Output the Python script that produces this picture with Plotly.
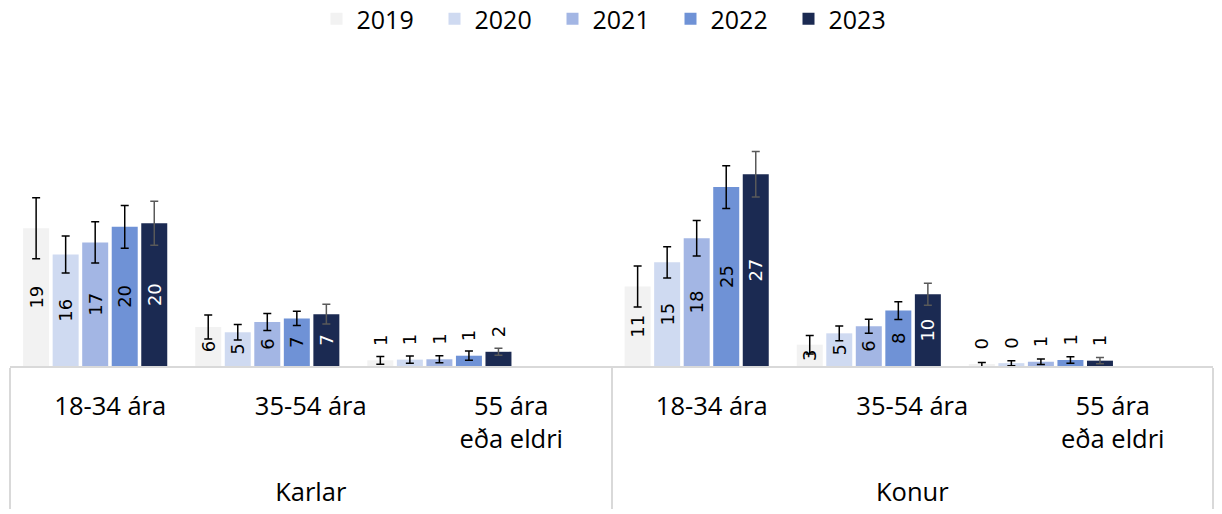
import plotly.graph_objects as go

years = ["2019", "2020", "2021", "2022", "2023"]
colors = ["#f2f2f2", "#cfdaf1", "#a3b6e4", "#6f92d6", "#1b2a52"]
groups = ["Karlar", "Konur"]
ages = ["18-34 ára", "35-54 ára", "55 ára<br>eða eldri"]

# values per year: [18-34, 35-54, 55+]
karlar_vals = {
    "2019": [19.4, 5.5, 0.8],
    "2020": [15.7, 4.75, 0.9],
    "2021": [17.4, 6.2, 0.95],
    "2022": [19.6, 6.7, 1.45],
    "2023": [20.1, 7.3, 2.0],
}
karlar_err = {
    "2019": [4.3, 1.7, 0.55],
    "2020": [2.6, 1.1, 0.5],
    "2021": [2.9, 1.2, 0.5],
    "2022": [3.0, 1.0, 0.65],
    "2023": [3.1, 1.4, 0.5],
}
karlar_labels = {
    "2019": ["19", "6", "1"],
    "2020": ["16", "5", "1"],
    "2021": ["17", "6", "1"],
    "2022": ["20", "7", "1"],
    "2023": ["20", "7", "2"],
}
konur_vals = {
    "2019": [11.2, 3.0, 0.2],
    "2020": [14.6, 4.6, 0.4],
    "2021": [18.0, 5.6, 0.6],
    "2022": [25.2, 7.8, 0.85],
    "2023": [27.0, 10.1, 0.75],
}
konur_err = {
    "2019": [2.9, 1.3, 0.3],
    "2020": [2.2, 1.05, 0.35],
    "2021": [2.5, 1.0, 0.4],
    "2022": [3.0, 1.25, 0.45],
    "2023": [3.2, 1.55, 0.45],
}
konur_labels = {
    "2019": ["11", "3", "0"],
    "2020": ["15", "5", "0"],
    "2021": ["18", "6", "1"],
    "2022": ["25", "8", "1"],
    "2023": ["27", "10", "1"],
}

LABEL_FONT = "DejaVu Sans"
AXIS_FONT = "Open Sans"
NBSP = "\u00a0"

fig = go.Figure()

# invisible trace to build the two-level category axis
fig.add_trace(go.Scatter(
    x=[["<br>" + g for g in groups for _ in ages], ages * len(groups)],
    y=[0] * (len(groups) * len(ages)),
    mode="markers", marker=dict(opacity=0), showlegend=False,
    hoverinfo="skip", xaxis="x", yaxis="y",
))


def positions(vals):
    return ["outside" if v < 2.5 else "inside" for v in vals]


def texts(vals, labs):
    # outside labels sit above the error bar: pad them on the baseline side
    return [(NBSP * 2 + t) if v < 2.5 else t for v, t in zip(vals, labs)]


for i, yr in enumerate(years):
    txtcol = "white" if yr == "2023" else "black"
    errcol = "#595959" if yr == "2023" else "black"
    for axis, vals, errs, labs, show in [
        ("x2", karlar_vals, karlar_err, karlar_labels, True),
        ("x3", konur_vals, konur_err, konur_labels, False),
    ]:
        fig.add_trace(go.Bar(
            x=ages, y=vals[yr], name=yr, legendgroup=yr, showlegend=show,
            marker=dict(color=colors[i], line=dict(width=0)),
            error_y=dict(type="data", array=errs[yr], color=errcol,
                         thickness=1.5, width=4),
            text=texts(vals[yr], labs[yr]), textposition=positions(vals[yr]),
            textangle=-90,
            insidetextanchor="middle", constraintext="none",
            insidetextfont=dict(family=LABEL_FONT, size=18, color=txtcol),
            outsidetextfont=dict(family=LABEL_FONT, size=18, color="black"),
            cliponaxis=False,
            xaxis=axis, yaxis="y",
        ))

fig.update_layout(
    width=1222, height=514,
    margin=dict(l=10, r=9, t=60, b=148),
    paper_bgcolor="white", plot_bgcolor="rgba(0,0,0,0)",
    barmode="group", bargap=0.142, bargroupgap=0.12,
    font=dict(family=AXIS_FONT, size=25, color="black"),
    legend=dict(
        orientation="h", x=0.5, xanchor="center", y=1 - 19 / 514,
        yanchor="middle", yref="container",
        font=dict(family=AXIS_FONT, size=25, color="black"),
        entrywidth=73, entrywidthmode="pixels", traceorder="normal",
        itemclick=False,
    ),
    xaxis=dict(
        type="multicategory", domain=[0, 1], range=[-0.5, 5.5], anchor="y",
        showline=True, linecolor="#d9d9d9", linewidth=2,
        showdividers=True, dividercolor="#d9d9d9", dividerwidth=2,
        ticks="", showgrid=False, zeroline=False, automargin=False,
        tickfont=dict(family=AXIS_FONT, size=25.5, color="black"),
        ticklabelstandoff=16,
    ),
    xaxis2=dict(domain=[0, 0.5], range=[-0.495, 3.0], anchor="y",
                visible=False, type="category"),
    xaxis3=dict(domain=[0.5, 1], range=[-0.495, 3.0], anchor="y",
                visible=False, type="category"),
    yaxis=dict(range=[0, 43.1], visible=False, fixedrange=True),
)

fig.write_html("out.html",
               config={"displayModeBar": False},
               post_script="document.body.style.margin='0px';"
                           "document.body.style.overflow='hidden';")
